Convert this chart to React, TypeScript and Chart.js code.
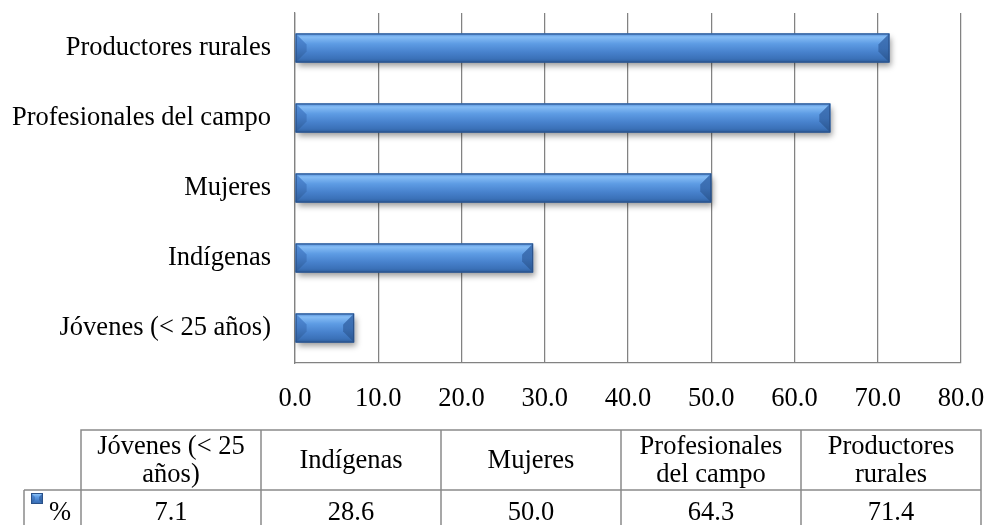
import React, { useEffect, useRef } from "react";
import { Chart, registerables } from "chart.js";

Chart.register(...registerables);

// ---- data ----
const categories = [
  "Jóvenes (< 25 años)",
  "Indígenas",
  "Mujeres",
  "Profesionales del campo",
  "Productores rurales",
];
const values = [7.1, 28.6, 50.0, 64.3, 71.4];
const seriesName = "%";
const xTickValues = [0, 10, 20, 30, 40, 50, 60, 70, 80];

const FONT = "'Liberation Serif', 'Times New Roman', Times, serif";
const FS = 26.5;
const GRID = "#828282";

function drawBevelRect(ctx: CanvasRenderingContext2D, x: number, y: number, w: number, h: number, bMax: number, shadow = true) {
  const b = Math.max(0, Math.min(bMax, w / 2, h / 2));
  ctx.save();
  if (shadow) {
    ctx.shadowColor = "rgba(0,0,0,0.4)";
    ctx.shadowBlur = 6;
    ctx.shadowOffsetX = 2;
    ctx.shadowOffsetY = 4;
  }
  ctx.fillStyle = "#3a70b5";
  ctx.fillRect(x, y, w, h);
  ctx.restore();

  ctx.save();
  const g = ctx.createLinearGradient(0, y, 0, y + h);
  g.addColorStop(0, "#4f8ad6");
  g.addColorStop(0.12, "#86bdf5");
  g.addColorStop(0.35, "#5e9ce4");
  g.addColorStop(0.65, "#4781cc");
  g.addColorStop(0.88, "#3a70b7");
  g.addColorStop(1, "#2c5a96");
  ctx.fillStyle = g;
  ctx.fillRect(x, y, w, h);

  // left facet
  ctx.beginPath();
  ctx.moveTo(x, y);
  ctx.lineTo(x + b, y + b);
  ctx.lineTo(x + b, y + h - b);
  ctx.lineTo(x, y + h);
  ctx.closePath();
  const gl = ctx.createLinearGradient(0, y, 0, y + h);
  gl.addColorStop(0, "#5590da");
  gl.addColorStop(0.5, "#4279c2");
  gl.addColorStop(1, "#2e5c98");
  ctx.fillStyle = gl;
  ctx.fill();

  // right facet
  ctx.beginPath();
  ctx.moveTo(x + w, y);
  ctx.lineTo(x + w - b, y + b);
  ctx.lineTo(x + w - b, y + h - b);
  ctx.lineTo(x + w, y + h);
  ctx.closePath();
  const gr = ctx.createLinearGradient(0, y, 0, y + h);
  gr.addColorStop(0, "#4275b8");
  gr.addColorStop(0.5, "#3a6db1");
  gr.addColorStop(1, "#2a5690");
  ctx.fillStyle = gr;
  ctx.fill();

  ctx.strokeStyle = "#2a5189";
  ctx.lineWidth = 1;
  ctx.strokeRect(x + 0.5, y + 0.5, w - 1, h - 1);
  ctx.restore();
}

const bevelPlugin = {
  id: "bevelBars",
  afterDatasetsDraw(chart: any) {
    const ctx = chart.ctx;
    const meta = chart.getDatasetMeta(0);
    meta.data.forEach((el: any) => {
      const { x, y, base, height } = el.getProps(["x", "y", "base", "height"], true);
      drawBevelRect(ctx, Math.min(base, x), y - height / 2, Math.abs(x - base), height, 11);
    });
  },
};

function wrapText(ctx: CanvasRenderingContext2D, text: string, maxW: number): string[] {
  const words = text.split(" ");
  const lines: string[] = [];
  let cur = "";
  for (const w of words) {
    const t = cur ? cur + " " + w : w;
    if (ctx.measureText(t).width > maxW && cur) {
      lines.push(cur);
      cur = w;
    } else cur = t;
  }
  if (cur) lines.push(cur);
  return lines;
}

const tablePlugin = {
  id: "dataTable",
  afterDraw(chart: any) {
    const ctx: CanvasRenderingContext2D = chart.ctx;
    const left = 81;
    const colW = 180;
    const headTop = 430;
    const headH = 60;
    const dataH = 42;
    const keyLeft = 24;
    const n = categories.length;
    const right = left + colW * n;
    ctx.save();
    ctx.strokeStyle = "#8a8a8a";
    ctx.lineWidth = 1.5;
    ctx.beginPath();
    ctx.moveTo(left, headTop + headH);
    ctx.lineTo(left, headTop);
    ctx.lineTo(right, headTop);
    ctx.lineTo(right, headTop + headH + dataH);
    for (let i = 1; i < n; i++) {
      ctx.moveTo(left + colW * i, headTop);
      ctx.lineTo(left + colW * i, headTop + headH + dataH);
    }
    ctx.moveTo(keyLeft, headTop + headH);
    ctx.lineTo(right, headTop + headH);
    ctx.moveTo(keyLeft, headTop + headH);
    ctx.lineTo(keyLeft, headTop + headH + dataH);
    ctx.moveTo(left, headTop + headH);
    ctx.lineTo(left, headTop + headH + dataH);
    ctx.moveTo(keyLeft, headTop + headH + dataH);
    ctx.lineTo(right, headTop + headH + dataH);
    ctx.stroke();

    ctx.fillStyle = "#000";
    ctx.font = `${FS}px ${FONT}`;
    ctx.textAlign = "center";
    ctx.textBaseline = "middle";
    const lineGap = 28;
    categories.forEach((c, i) => {
      const cx = left + colW * i + colW / 2;
      const lines = wrapText(ctx, c, colW - 16);
      const cy = headTop + headH / 2 + 1;
      lines.forEach((ln, j) => {
        ctx.fillText(ln, cx, cy + (j - (lines.length - 1) / 2) * lineGap);
      });
      ctx.fillText(values[i].toFixed(1), cx, headTop + headH + 23);
    });
    drawBevelRect(ctx, 31, 493, 12, 11, 4, false);
    ctx.textAlign = "left";
    ctx.fillText(seriesName, 49, headTop + headH + 23);
    ctx.restore();
  },
};

export default function App() {
  const ref = useRef<HTMLCanvasElement | null>(null);
  useEffect(() => {
    if (!ref.current) return;
    const chart = new Chart(ref.current, {
      type: "bar",
      data: {
        labels: categories,
        datasets: [
          {
            label: seriesName,
            data: values,
            backgroundColor: "rgba(0,0,0,0)",
            borderWidth: 0,
            barPercentage: 0.414,
            categoryPercentage: 1,
          },
        ],
      },
      options: {
        indexAxis: "y",
        animation: false,
        responsive: false,
        devicePixelRatio: 1,
        layout: { autoPadding: false, padding: { left: 0, right: 26, top: 13, bottom: 102 } },
        plugins: { legend: { display: false }, title: { display: false }, tooltip: { enabled: false } },
        scales: {
          x: {
            min: 0,
            max: 80,
            afterBuildTicks(scale: any) {
              scale.ticks = xTickValues.map((v) => ({ value: v }));
            },
            ticks: {
              callback: (v: any) => Number(v).toFixed(1),
              font: { family: FONT, size: FS },
              color: "#000",
              padding: 20,
              maxRotation: 0,
            },
            grid: { color: GRID, drawTicks: false, tickLength: 0, lineWidth: 1.25 },
            border: { color: GRID, width: 1.25 },
            afterFit(scale: any) {
              scale.height = 60;
              scale.paddingLeft = 0;
              scale.paddingRight = 0;
              scale.paddingTop = 0;
              scale.paddingBottom = 0;
            },
          },
          y: {
            reverse: true,
            grid: { display: false, drawTicks: false, tickLength: 0 },
            border: { display: true, color: GRID, width: 1.25 },
            ticks: { font: { family: FONT, size: FS }, color: "#000", padding: 24 },
            afterFit(scale: any) {
              scale.width = 295;
              scale.paddingLeft = 0;
              scale.paddingRight = 0;
              scale.paddingTop = 0;
              scale.paddingBottom = 0;
            },
          },
        },
      },
      plugins: [bevelPlugin, tablePlugin],
    });
    return () => chart.destroy();
  }, []);
  return (
    <div style={{ position: "fixed", left: 0, top: 0, width: 987, height: 525, background: "#fff" }}>
      <canvas ref={ref} width={987} height={525} style={{ display: "block" }} />
    </div>
  );
}
